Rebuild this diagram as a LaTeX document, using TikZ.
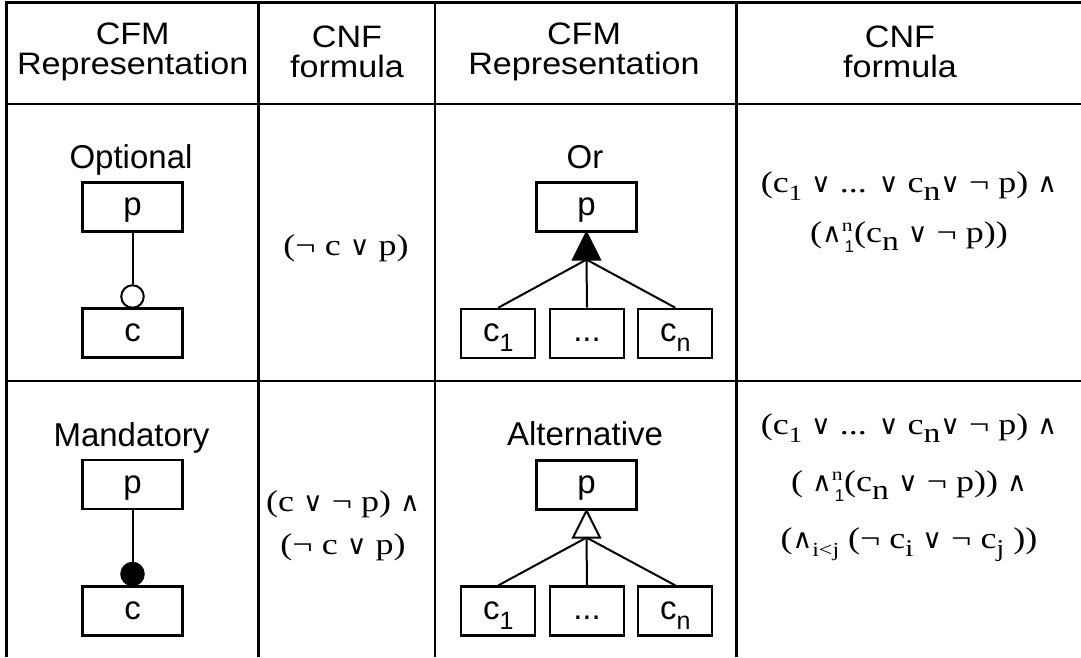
\documentclass[tikz,border=0pt]{standalone}
\usepackage{fontspec}
\setmainfont{Liberation Serif}
\setsansfont{Liberation Sans}
\newfontfamily\cnffont[FakeStretch=1.2]{Liberation Serif}
\newfontfamily\hdrfont[FakeStretch=1.1]{Liberation Sans}
\newfontfamily\symf{DejaVu Sans}
\usetikzlibrary{calc}

% font size shortcut
\newcommand\sz[1]{\fontsize{#1}{#1}\selectfont}
% logical connectives
\newcommand\orop{{\symf\sz{27}∨}}
\newcommand\andop{{\symf\sz{27}∧}}
% lowered / raised indices: shift, size, text
\newcommand\dn[3]{\raisebox{-#1pt}{\sz{#2}#3}}
\newcommand\up[3]{\raisebox{#1pt}{\sz{#2}#3}}
% big conjunction from 1 to n
\newcommand\bigand{\andop\rlap{\up{11}{18}{n}}\dn{10}{17}{\sffamily\,1}}

\tikzset{
  x=1pt, y=-1pt,
  grid/.style={line width=2.6pt},
  hdr/.style={align=center, font=\hdrfont\fontsize{31}{30}\selectfont, inner sep=0pt},
  lbl/.style={font=\sffamily\sz{33}, inner sep=0pt, anchor=base},
  box/.style={draw, line width=2.2pt, minimum width=100pt, minimum height=49pt,
    inner sep=0pt, font=\sffamily\sz{33}, text height=17pt, text depth=0pt},
  kid/.style={box, minimum width=74pt},
  conn/.style={line width=2pt},
  knob/.style={circle, draw, line width=2pt, minimum size=22.5pt, inner sep=0pt},
  cnf/.style={align=center, inner sep=0pt},
}

\begin{document}
\begin{tikzpicture}
\useasboundingbox (0,0) rectangle (1081,657);

% table rules
\draw[grid] (5.4,2.5) -- (1081,2.5);
\draw[grid] (5.4,104) -- (1081,104);
\draw[grid] (5.4,381) -- (1081,381);
\foreach \cx in {6.7,258.7,435,736.7}
  \draw[grid] (\cx,1.2) -- (\cx,657);

% header
\node[hdr] (h1) at (132.7,52) {CFM\\Representation};
\node[hdr] (h2) at (347,52) {CNF\\formula};
\node[hdr] (h3) at (584,52) {CFM\\Representation};
\node[hdr] (h4) at (900,52) {CNF\\formula};

% optional feature
\node[lbl] (optl) at (131,168) {Optional};
\node[box] (op) at (132.5,207) {p};
\node[box] (oc) at (132.5,333) {c};
\node[knob, fill=white] (oo) at (132.5,296.5) {};
\draw[conn] (op) -- (oo);
\node[cnf, font=\cnffont\sz{30}] (f1) at (346,248) {(¬ c \orop{} p)};

% or group
\node[lbl] (orl) at (585,168) {Or};
\node[box] (rp) at (586.5,207) {p};
\node[kid] (r1) at (498.3,333.3) {c\dn{10}{25}{1}};
\node[kid] (r2) at (587,333.3) {...};
\node[kid] (r3) at (675.3,333.3) {c\dn{10}{25}{n}};
\draw[conn, fill=black] (rp.south) -- ++(-13.5,27) -- ++(27,0) -- cycle;
\coordinate (rt) at ($(rp.south)+(0,27)$);
\draw[conn] (rt) -- (r1.north);
\draw[conn] (rt) -- (r2.north);
\draw[conn] (rt) -- (r3.north);
\node[cnf, font=\cnffont\fontsize{30}{50}\selectfont] (f3) at (909,212)
  {(c\dn{8}{22}{1} \orop{} ... \orop{} c\dn{8}{28}{n}\orop{} ¬ p) \andop\\
   (\bigand(c\dn{8}{28}{n} \orop{} ¬ p))};

% mandatory feature
\node[lbl] (mandl) at (131.5,446) {Mandatory};
\node[box] (mp) at (132.5,484.5) {p};
\node[box] (mc) at (132.5,611) {c};
\node[knob, fill=black] (mo) at (132.5,574) {};
\draw[conn] (mp) -- (mo);
\node[cnf, font=\cnffont\fontsize{30}{43}\selectfont] (f2) at (343,526)
  {(c \orop{} ¬ p) \andop\\ (¬ c \orop{} p)};

% alternative group
\node[lbl] (altl) at (585,445) {Alternative};
\node[box] (ap) at (586.5,485) {p};
\node[kid] (a1) at (498.3,611) {c\dn{10}{25}{1}};
\node[kid] (a2) at (587,611) {...};
\node[kid] (a3) at (675.3,611) {c\dn{10}{25}{n}};
\draw[conn, fill=white] (ap.south) -- ++(-13.5,27) -- ++(27,0) -- cycle;
\coordinate (at) at ($(ap.south)+(0,27)$);
\draw[conn] (at) -- (a1.north);
\draw[conn] (at) -- (a2.north);
\draw[conn] (at) -- (a3.north);
\node[cnf, font=\cnffont\fontsize{30}{57}\selectfont] (f4) at (909,488)
  {(c\dn{8}{22}{1} \orop{} ... \orop{} c\dn{8}{28}{n}\orop{} ¬ p) \andop\\
   ( \bigand(c\dn{8}{28}{n} \orop{} ¬ p)) \andop\\
   (\andop\dn{8}{20}{i<j} (¬ c\dn{8}{24}{i} \orop{} ¬ c\dn{8}{24}{j} ))};
\end{tikzpicture}
\end{document}
